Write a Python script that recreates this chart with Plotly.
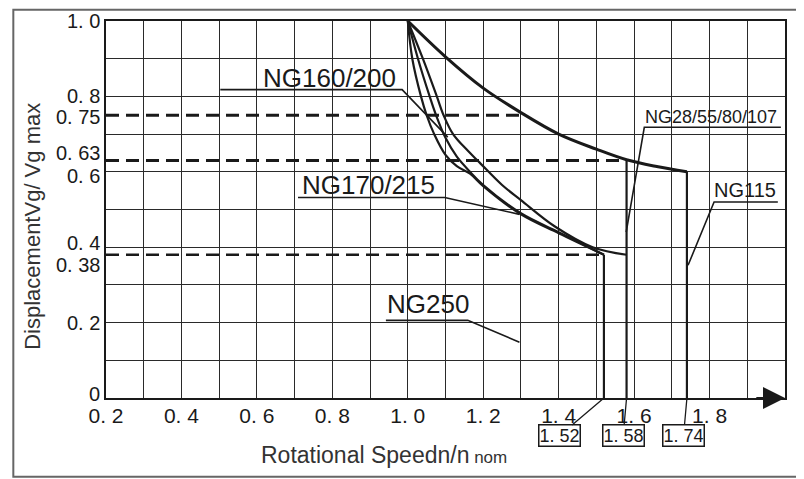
import plotly.graph_objects as go

# ---- data ----
# upper limit curve (NG28/55/80/107 up to 1.58, NG115 up to 1.74)
top_x = [1.0, 1.1, 1.2, 1.3, 1.4, 1.5, 1.58, 1.66, 1.74]
top_y = [1.0, 0.905, 0.822, 0.757, 0.70, 0.66, 0.632, 0.614, 0.60]

# NG160/200
ng160_x = [1.0, 1.04, 1.077, 1.095, 1.12, 1.16, 1.19, 1.25, 1.30, 1.39, 1.49, 1.58]
ng160_y = [1.0, 0.9, 0.8, 0.75, 0.70, 0.655, 0.625, 0.565, 0.525, 0.455, 0.40, 0.38]

# NG170/215
ng170_x = [1.0, 1.027, 1.058, 1.075, 1.10, 1.13, 1.165, 1.20, 1.30, 1.40, 1.52]
ng170_y = [1.0, 0.9, 0.8, 0.75, 0.69, 0.64, 0.60, 0.565, 0.49, 0.44, 0.38]

# NG250
ng250_x = [1.0, 1.012, 1.035, 1.05, 1.07, 1.10, 1.13, 1.165, 1.20, 1.30, 1.40, 1.52]
ng250_y = [1.0, 0.9, 0.8, 0.75, 0.70, 0.645, 0.615, 0.595, 0.562, 0.487, 0.437, 0.38]

# dashed displacement levels and where they stop
dash_levels = [0.75, 0.63, 0.38]
dash_ends = [1.30, 1.58, 1.52]

# speed limits (vertical lines) and their top displacement
limit_speeds = [1.52, 1.58, 1.74]
limit_tops = [0.38, 0.63, 0.60]
limit_text = ["1. 52", "1. 58", "1. 74"]

x_tick_vals = [0.2, 0.4, 0.6, 0.8, 1.0, 1.2, 1.4, 1.6, 1.8]
x_tick_text = ["0. 2", "0. 4", "0. 6", "0. 8", "1. 0", "1. 2", "1. 4", "1. 6", "1. 8"]
y_grid_vals = [0, 0.2, 0.4, 0.6, 0.8, 1.0]
y_label_vals = [1.0, 0.8, 0.75, 0.63, 0.6, 0.4, 0.38, 0.2, 0]
y_label_text = ["1. 0", "0. 8", "0. 75", "0. 63", "0. 6", "0. 4", "0. 38", "0. 2", "0"]

INK = "#1a1a1a"
FONT = "Liberation Sans, Arial, sans-serif"

fig = go.Figure()

# dashed reference levels
for lv, xe in zip(dash_levels, dash_ends):
    fig.add_trace(go.Scatter(
        x=[0.2, xe], y=[lv, lv], mode="lines",
        line=dict(color=INK, width=3.2 if lv > 0.5 else 2.4, dash="13px,7px"),
        hoverinfo="skip"))

# vertical speed limits
for sp, tp in zip(limit_speeds, limit_tops):
    fig.add_trace(go.Scatter(
        x=[sp, sp], y=[0, tp], mode="lines",
        line=dict(color=INK, width=2.2), hoverinfo="skip"))

# curves
for cx, cy, w, nm in [(top_x, top_y, 3.0, "NG28/55/80/107, NG115"),
                      (ng160_x, ng160_y, 2.2, "NG160/200"),
                      (ng170_x, ng170_y, 2.2, "NG170/215"),
                      (ng250_x, ng250_y, 2.2, "NG250")]:
    fig.add_trace(go.Scatter(
        x=cx, y=cy, mode="lines", name=nm,
        line=dict(color=INK, width=w, shape="spline", smoothing=1.0)))

annotations = []
shapes = []

# y labels (placed by hand-tuned nudges as in the reference, where they crowd)
y_nudge = {0.75: -2, 0.63: 7, 0.6: -4, 0.4: 4, 0.38: -10, 0: 4}
for v, t in zip(y_label_vals, y_label_text):
    annotations.append(dict(
        x=0, xref="paper", y=v, yref="y", text=t, showarrow=False,
        xanchor="right", yanchor="middle", xshift=-4, yshift=y_nudge.get(v, 0),
        font=dict(size=20, color=INK)))

# curve labels with underline + leader
labels = [
    ("NG160/200", 0.792, 0.849, 26, [(0.503, 0.818), (0.985, 0.818), (1.106, 0.692)]),
    ("NG170/215", 0.897, 0.564, 26, [(0.709, 0.532), (1.098, 0.532), (1.296, 0.487)]),
    ("NG250", 1.053, 0.249, 26, [(0.942, 0.206), (1.159, 0.206), (1.296, 0.148)]),
    ("NG28/55/80/107", 1.804, 0.746, 18, [(1.989, 0.718), (1.627, 0.718), (1.579, 0.44)]),
    ("NG115", 1.895, 0.551, 20, [(1.981, 0.52), (1.812, 0.52), (1.743, 0.352)]),
]
for txt, lx, ly, fs, pts in labels:
    annotations.append(dict(x=lx, y=ly, xref="x", yref="y", text=txt,
                            showarrow=False, font=dict(size=fs, color=INK)))
    path = "M " + " L ".join(f"{px},{py}" for px, py in pts)
    shapes.append(dict(type="path", path=path, xref="x", yref="y",
                       line=dict(color=INK, width=1.6), layer="above"))

# boxed speed limit labels below the axis
for sp, t, bx in zip(limit_speeds, limit_text, [1.402, 1.571, 1.731]):
    annotations.append(dict(
        x=sp, y=0, xref="x", yref="y", ax=bx, ay=-0.1, axref="x", ayref="y",
        text=t, showarrow=True, arrowhead=0, arrowwidth=1.3, arrowcolor=INK,
        bordercolor=INK, borderwidth=1.5, borderpad=0, bgcolor="white",
        font=dict(size=18, color=INK)))

# arrow at end of x axis
annotations.append(dict(x=2.0, y=0, xref="x", yref="y", ax=1.92, ay=0,
                        axref="x", ayref="y", text="", showarrow=True,
                        arrowhead=2, arrowsize=2.2, arrowwidth=2, arrowcolor=INK))

# axis titles
annotations.append(dict(x=0.41, y=-0.152, xref="paper", yref="paper",
                        xanchor="center", yanchor="middle",
                        text="Rotational Speedn/n<span style='font-size:17px'> nom</span>",
                        showarrow=False, font=dict(size=23, color="#333")))
annotations.append(dict(x=-0.1085, y=0.455, xref="paper", yref="paper",
                        xanchor="center", yanchor="middle",
                        text="DisplacementVg/ Vg max", textangle=-90,
                        showarrow=False, font=dict(size=22, color="#333")))

# outer frame
shapes.append(dict(type="rect", xref="paper", yref="paper",
                   x0=-0.1365, x1=1.019, y0=-0.209, y1=1.03,
                   line=dict(color="#666", width=2), layer="below"))

grid = dict(showgrid=True, gridcolor="#2a2a2a", gridwidth=1.4)
fig.update_xaxes(range=[0.2, 2.0], tickmode="array", tickvals=x_tick_vals,
                 ticktext=x_tick_text, ticks="", zeroline=False,
                 showline=True, linecolor=INK, linewidth=2, mirror=True,
                 tickfont=dict(size=21, color=INK), ticklabelstandoff=-2,
                 minor=dict(tickmode="linear", tick0=0, dtick=0.1, **grid), **grid)
fig.update_yaxes(range=[0, 1.0], tickmode="array", tickvals=y_grid_vals,
                 showticklabels=False, ticks="", zeroline=False,
                 showline=True, linecolor=INK, linewidth=2, mirror=True,
                 minor=dict(tickmode="linear", tick0=0, dtick=0.1, **grid), **grid)

# the page adds an 8px body margin, so the figure is 8px smaller on the left/top
fig.update_layout(width=796, height=471, margin=dict(l=98, r=19, t=13, b=81),
                  plot_bgcolor="white", paper_bgcolor="white", showlegend=False,
                  font=dict(family=FONT, color=INK),
                  annotations=annotations, shapes=shapes)

fig.write_html("out.html")
